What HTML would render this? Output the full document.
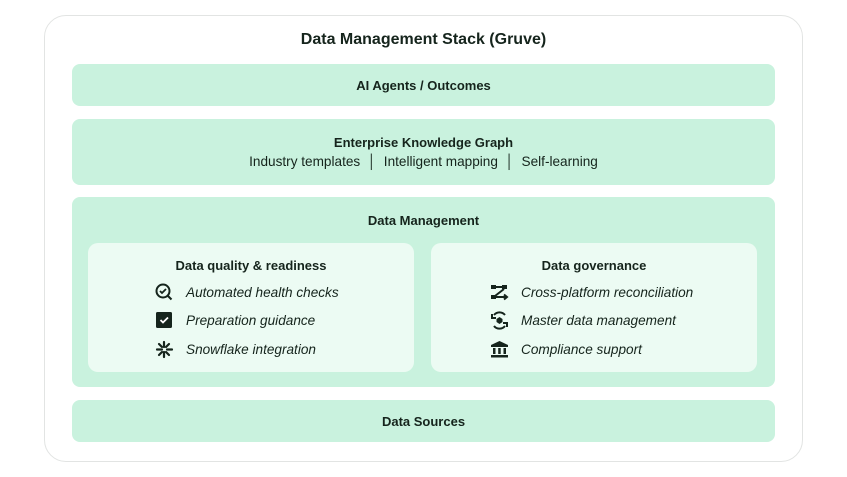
<!DOCTYPE html>
<html><head><style>
*{margin:0;padding:0;box-sizing:border-box}
body{width:847px;height:477px;background:#fff;font-family:"Liberation Sans",sans-serif;color:#15241c;position:relative;overflow:hidden}
.a{position:absolute}
.outer{left:44px;top:15px;width:759px;height:447px;border:1px solid #e2e4e3;border-radius:22px;background:#fff}
.band{background:#c9f2de;border-radius:8px;left:72px;width:703px}
.t{position:absolute;width:100%;text-align:center;font-weight:bold;font-size:13px}
.card{background:#ecfbf3;border-radius:10px;top:243px;height:129px;width:326px}
.item{position:absolute;font-style:italic;font-size:13.6px;display:flex;align-items:center}
.item svg{margin-right:12px}
</style></head><body>
<div class="a outer"></div>
<div class="a" style="left:0;width:847px;top:31px;text-align:center;font-weight:bold;font-size:16px">Data Management Stack (Gruve)</div>
<div class="a band" style="top:64px;height:42px"><div class="t" style="top:14px">AI Agents / Outcomes</div></div>
<div class="a band" style="top:119px;height:66px"><div class="t" style="top:16px">Enterprise Knowledge Graph</div>
<div style="position:absolute;top:35px;width:100%;text-align:center;font-size:13.6px">Industry templates &nbsp;│&nbsp; Intelligent mapping &nbsp;│&nbsp; Self-learning</div></div>
<div class="a band" style="top:197px;height:190px"><div class="t" style="top:16px">Data Management</div></div>
<div class="a card" style="left:88px"><div class="t" style="top:15px">Data quality &amp; readiness</div>
<div class="item" style="left:67px;top:40px"><svg width="19" height="19" viewBox="0 0 19 19"><circle cx="8" cy="8" r="6.5" fill="none" stroke="#15241c" stroke-width="2"/><path d="M5 8l2 2 4-4" fill="none" stroke="#15241c" stroke-width="1.8"/><path d="M12.5 12.5l4 4" stroke="#15241c" stroke-width="2"/></svg>Automated health checks</div>
<div class="item" style="left:67px;top:68px"><svg width="19" height="19" viewBox="0 0 19 19"><rect x="1" y="1" width="16" height="16" rx="1.5" fill="#15241c"/><path d="M5.5 9l2.5 2.5 5-5" fill="none" stroke="#fff" stroke-width="1.8"/></svg>Preparation guidance</div>
<div class="item" style="left:67px;top:97px"><svg width="19" height="19" viewBox="0 0 19 19" stroke="#15241c" stroke-width="2.2" stroke-linecap="round"><path d="M9 2v5M9 12v5M2 9.5h5M12 9.5h5M4 4l3 3M11 12l3 3M14 4l-3 3M7 12l-3 3"/></svg>Snowflake integration</div></div>
<div class="a card" style="left:431px"><div class="t" style="top:15px">Data governance</div>
<div class="item" style="left:59px;top:40px"><svg width="19" height="19" viewBox="0 0 19 19"><rect x="1" y="2" width="5" height="4" fill="#15241c"/><rect x="12" y="2" width="5" height="4" fill="#15241c"/><rect x="1" y="12" width="5" height="4" fill="#15241c"/><path d="M6 4h6M14 6L5 13M6 14h10M14 11.5l3 2.5-3 2.5" fill="none" stroke="#15241c" stroke-width="2"/></svg>Cross-platform reconciliation</div>
<div class="item" style="left:59px;top:68px"><svg width="19" height="19" viewBox="0 0 19 19"><path d="M4 4a7 7 0 0 1 11 0M15 15a7 7 0 0 1-11 0" fill="none" stroke="#15241c" stroke-width="2"/><path d="M2 3v4h4M17 16v-4h-4" fill="none" stroke="#15241c" stroke-width="2"/><path d="M9.5 6l3 2v3l-3 2-3-2V8z" fill="#15241c"/></svg>Master data management</div>
<div class="item" style="left:59px;top:97px"><svg width="19" height="19" viewBox="0 0 19 19" fill="#15241c"><path d="M9.5 1L1 5v2h17V5z"/><rect x="3" y="8" width="2.5" height="6"/><rect x="8.2" y="8" width="2.5" height="6"/><rect x="13.5" y="8" width="2.5" height="6"/><rect x="1" y="15" width="17" height="2.5"/></svg>Compliance support</div></div>
<div class="a band" style="top:400px;height:42px"><div class="t" style="top:14px">Data Sources</div></div>
</body></html>
